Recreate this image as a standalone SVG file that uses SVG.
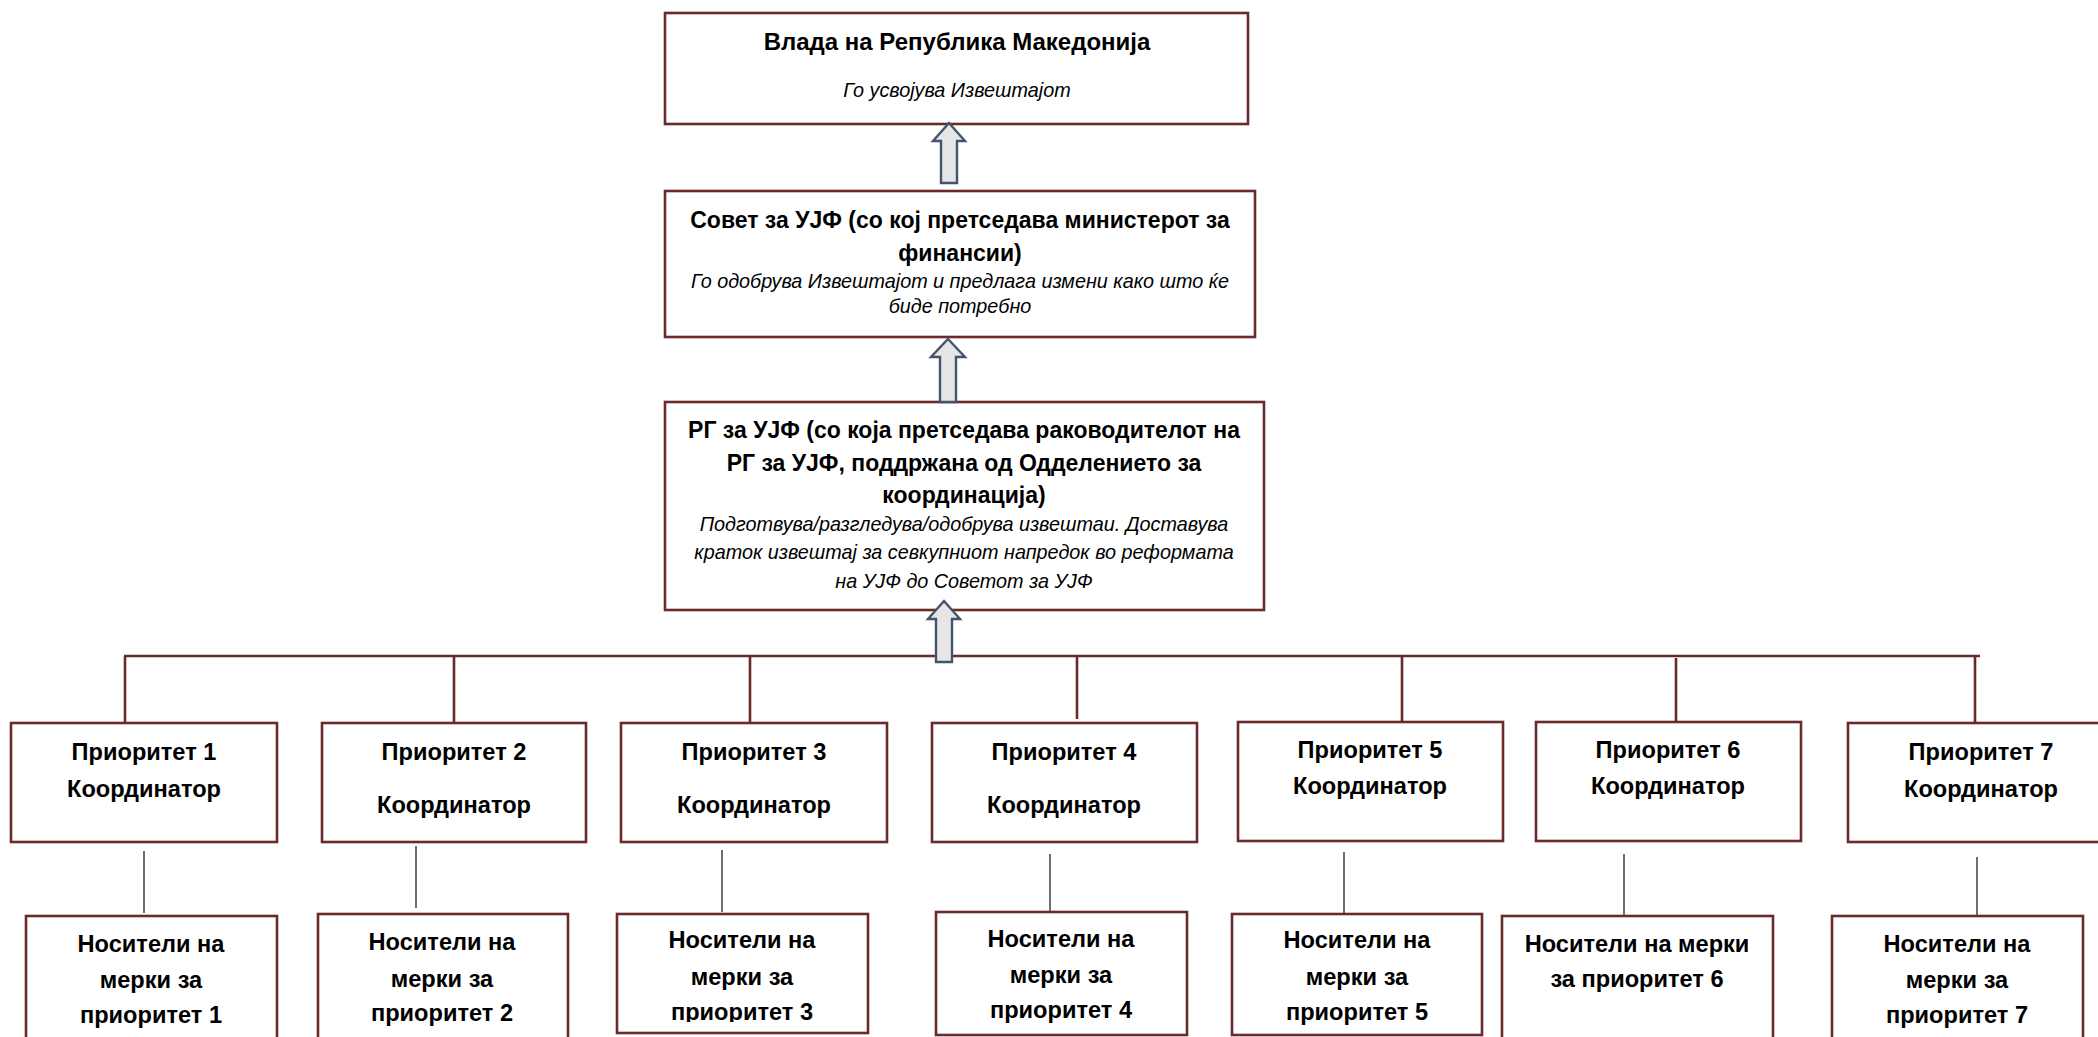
<svg xmlns="http://www.w3.org/2000/svg" width="2098" height="1037" viewBox="0 0 2098 1037">
<style>
.box{fill:#fff;stroke:#6A2A2A;stroke-width:2.6}
.t{font-family:"Liberation Sans",Arial,sans-serif;font-weight:bold;font-size:23px;fill:#000;text-anchor:middle}
.b{font-family:"Liberation Sans",Arial,sans-serif;font-weight:bold;font-size:23.6px;fill:#000;text-anchor:middle}
.i{font-family:"Liberation Sans",Arial,sans-serif;font-style:italic;font-size:19.8px;fill:#000;text-anchor:middle}
.conn{stroke:#6A2A2A;stroke-width:2.6;fill:none}
.thin{stroke:#222;stroke-width:1.3;fill:none}
.arrow{fill:#E6E6E6;stroke:#44546A;stroke-width:2.4;stroke-linejoin:miter}
</style>
<defs>
<clipPath id="clipN3"><rect x="600" y="900" width="300" height="122"/></clipPath>
</defs>
<rect width="2098" height="1037" fill="#fff"/>

<g id="connectors">
<line class="conn" x1="124" y1="656" x2="1980" y2="656"/>
<line class="conn" x1="125" y1="656" x2="125" y2="724"/>
<line class="conn" x1="454" y1="656" x2="454" y2="724"/>
<line class="conn" x1="750" y1="656" x2="750" y2="724"/>
<line class="conn" x1="1077" y1="655" x2="1077" y2="719"/>
<line class="conn" x1="1402" y1="655" x2="1402" y2="722"/>
<line class="conn" x1="1676" y1="658" x2="1676" y2="726"/>
<line class="conn" x1="1975" y1="656" x2="1975" y2="723"/>
<line class="thin" x1="144" y1="851" x2="144" y2="913"/>
<line class="thin" x1="416" y1="846" x2="416" y2="908"/>
<line class="thin" x1="722" y1="850" x2="722" y2="912"/>
<line class="thin" x1="1050" y1="854" x2="1050" y2="915"/>
<line class="thin" x1="1344" y1="852" x2="1344" y2="913"/>
<line class="thin" x1="1624" y1="854" x2="1624" y2="915"/>
<line class="thin" x1="1977" y1="857" x2="1977" y2="917"/>
</g>

<g id="vlada">
<rect class="box" x="665" y="13" width="583" height="111"/>
<text class="t" x="957" y="50" style="font-size:24px">Влада на Република Македонија</text>
<text class="i" x="957" y="97">Го усвојува Извештајот</text>
</g>

<g id="sovet">
<rect class="box" x="665" y="191" width="590" height="146"/>
<text class="t" x="960" y="228">Совет за УЈФ (со кој претседава министерот за</text>
<text class="t" x="960" y="261">финансии)</text>
<text class="i" x="960" y="288">Го одобрува Извештајот и предлага измени како што ќе</text>
<text class="i" x="960" y="313">биде потребно</text>
</g>

<g id="rg">
<rect class="box" x="665" y="402" width="599" height="208"/>
<text class="t" x="964" y="438">РГ за УЈФ (со која претседава раководителот на</text>
<text class="t" x="964" y="471">РГ за УЈФ, поддржана од Одделението за</text>
<text class="t" x="964" y="503">координација)</text>
<text class="i" x="964" y="531">Подготвува/разгледува/одобрува извештаи. Доставува</text>
<text class="i" x="964" y="559">краток извештај за севкупниот напредок во реформата</text>
<text class="i" x="964" y="588">на УЈФ до Советот за УЈФ</text>
</g>

<g id="arrows">
<path class="arrow" d="M949,123 L965,141 L957,141 L957,183 L941,183 L941,141 L933,141 Z"/>
<path class="arrow" d="M948,339 L965,357 L956,357 L956,402 L940,402 L940,357 L931,357 Z"/>
<path class="arrow" d="M944,601 L960,619 L952,619 L952,662 L936,662 L936,619 L928,619 Z"/>
</g>

<g id="p1">
<rect class="box" x="11" y="723" width="266" height="119"/>
<text class="b" x="144" y="760">Приоритет 1</text>
<text class="b" x="144" y="797">Координатор</text>
</g>
<g id="p2">
<rect class="box" x="322" y="723" width="264" height="119"/>
<text class="b" x="454" y="760">Приоритет 2</text>
<text class="b" x="454" y="813">Координатор</text>
</g>
<g id="p3">
<rect class="box" x="621" y="723" width="266" height="119"/>
<text class="b" x="754" y="760">Приоритет 3</text>
<text class="b" x="754" y="813">Координатор</text>
</g>
<g id="p4">
<rect class="box" x="932" y="723" width="265" height="119"/>
<text class="b" x="1064" y="760">Приоритет 4</text>
<text class="b" x="1064" y="813">Координатор</text>
</g>
<g id="p5">
<rect class="box" x="1238" y="722" width="265" height="119"/>
<text class="b" x="1370" y="758">Приоритет 5</text>
<text class="b" x="1370" y="794">Координатор</text>
</g>
<g id="p6">
<rect class="box" x="1536" y="722" width="265" height="119"/>
<text class="b" x="1668" y="758">Приоритет 6</text>
<text class="b" x="1668" y="794">Координатор</text>
</g>
<g id="p7">
<rect class="box" x="1848" y="723" width="266" height="119"/>
<text class="b" x="1981" y="760">Приоритет 7</text>
<text class="b" x="1981" y="797">Координатор</text>
</g>

<g id="n1">
<rect class="box" x="26" y="916" width="251" height="140"/>
<text class="b" x="151" y="952">Носители на</text>
<text class="b" x="151" y="988">мерки за</text>
<text class="b" x="151" y="1023">приоритет 1</text>
</g>
<g id="n2">
<rect class="box" x="318" y="914" width="250" height="140"/>
<text class="b" x="442" y="950">Носители на</text>
<text class="b" x="442" y="987">мерки за</text>
<text class="b" x="442" y="1021">приоритет 2</text>
</g>
<g id="n3">
<rect class="box" x="617" y="914" width="251" height="119"/>
<g clip-path="url(#clipN3)">
<text class="b" x="742" y="948">Носители на</text>
<text class="b" x="742" y="985">мерки за</text>
<text class="b" x="742" y="1020">приоритет 3</text>
</g>
</g>
<g id="n4">
<rect class="box" x="936" y="912" width="251" height="123"/>
<text class="b" x="1061" y="947">Носители на</text>
<text class="b" x="1061" y="983">мерки за</text>
<text class="b" x="1061" y="1018">приоритет 4</text>
</g>
<g id="n5">
<rect class="box" x="1232" y="914" width="250" height="121"/>
<text class="b" x="1357" y="948">Носители на</text>
<text class="b" x="1357" y="985">мерки за</text>
<text class="b" x="1357" y="1020">приоритет 5</text>
</g>
<g id="n6">
<rect class="box" x="1502" y="916" width="271" height="140"/>
<text class="b" x="1637" y="952">Носители на мерки</text>
<text class="b" x="1637" y="987">за приоритет 6</text>
</g>
<g id="n7">
<rect class="box" x="1832" y="916" width="251" height="140"/>
<text class="b" x="1957" y="952">Носители на</text>
<text class="b" x="1957" y="988">мерки за</text>
<text class="b" x="1957" y="1023">приоритет 7</text>
</g>
</svg>
